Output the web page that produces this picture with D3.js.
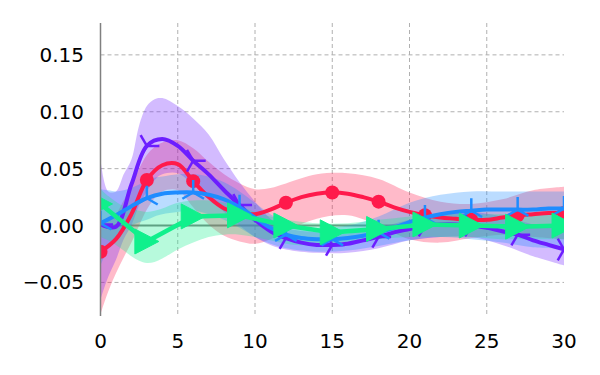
<!DOCTYPE html>
<html>
<head>
<meta charset="utf-8">
<script src="https://cdn.jsdelivr.net/npm/d3@7"></script>
<style>
  body { margin: 0; background: #fff; }
  .graph text { font-family: "DejaVu Sans", sans-serif; font-size: 20px; fill: #000; }
</style>
</head>
<body>
<div class="graph"></div>
<script>
let xs = d3.range(0, 31);
let redLine = [-0.023, -0.012, 0.010, 0.040, 0.053, 0.054, 0.039, 0.025, 0.015, 0.011, 0.010, 0.014, 0.020, 0.025, 0.028, 0.029, 0.028, 0.025, 0.021, 0.016, 0.012, 0.009, 0.007, 0.006, 0.005, 0.005, 0.007, 0.009, 0.010, 0.011, 0.011];
let purpleLine = [0.001, -0.001, 0.036, 0.070, 0.076, 0.070, 0.057, 0.045, 0.031, 0.018, 0.005, -0.005, -0.011, -0.015, -0.017, -0.017, -0.016, -0.013, -0.010, -0.006, -0.003, 0.000, 0.001, 0.001, 0.000, -0.002, -0.005, -0.008, -0.013, -0.017, -0.021];
let blueLine = [0.002, 0.009, 0.017, 0.024, 0.028, 0.029, 0.029, 0.027, 0.023, 0.016, 0.007, -0.002, -0.008, -0.011, -0.012, -0.012, -0.011, -0.009, -0.006, -0.002, 0.003, 0.007, 0.010, 0.012, 0.013, 0.014, 0.014, 0.014, 0.014, 0.015, 0.015];

let greenX = [0, 3, 6, 9, 12, 15, 18, 21, 24, 27, 30];
let greenLine = [0.019, -0.014, 0.008, 0.009, 0.000, -0.006, -0.003, 0.001, 0.000, -0.001, 0.000];

let bandX = [0, 0.5, 1, 1.5, 2, 2.5, 3, 3.5, 4, 5, 6, 7, 8, 9, 10, 11, 12, 14, 16, 18, 20, 22, 24, 26, 28, 30];
let redLow = [-0.078, -0.058, -0.042, -0.028, -0.015, 0.000, 0.014, 0.024, 0.030, 0.031, 0.016, 0.001, -0.009, -0.014, -0.016, -0.012, -0.005, 0.006, 0.009, 0.000, -0.012, -0.015, -0.011, -0.008, -0.010, -0.012];
let redHigh = [0.000, 0.004, 0.010, 0.022, 0.035, 0.050, 0.062, 0.069, 0.073, 0.075, 0.068, 0.056, 0.045, 0.037, 0.032, 0.033, 0.037, 0.045, 0.046, 0.041, 0.029, 0.021, 0.019, 0.023, 0.031, 0.034];
let purpleLow = [-0.065, -0.045, -0.030, -0.012, 0.000, 0.018, 0.030, 0.040, 0.045, 0.046, 0.036, 0.025, 0.012, 0.000, -0.010, -0.017, -0.021, -0.024, -0.024, -0.020, -0.013, -0.010, -0.010, -0.017, -0.027, -0.035];
let purpleHigh = [0.058, 0.030, 0.030, 0.045, 0.058, 0.088, 0.105, 0.111, 0.112, 0.105, 0.094, 0.080, 0.058, 0.038, 0.021, 0.006, -0.002, -0.006, -0.007, -0.002, 0.005, 0.010, 0.012, 0.008, 0.001, -0.004];
let blueLow = [-0.035, -0.020, -0.010, -0.004, 0.000, 0.003, 0.005, 0.008, 0.010, 0.012, 0.013, 0.010, 0.005, -0.002, -0.010, -0.016, -0.020, -0.023, -0.022, -0.018, -0.013, -0.010, -0.012, -0.015, -0.019, -0.020];
let blueHigh = [0.032, 0.031, 0.030, 0.031, 0.033, 0.036, 0.040, 0.042, 0.043, 0.045, 0.045, 0.043, 0.038, 0.030, 0.020, 0.010, 0.003, -0.002, 0.000, 0.008, 0.020, 0.027, 0.030, 0.030, 0.030, 0.030];
let greenLow = [-0.010, -0.013, -0.017, -0.022, -0.027, -0.031, -0.033, -0.032, -0.029, -0.021, -0.015, -0.010, -0.008, -0.008, -0.010, -0.013, -0.016, -0.018, -0.016, -0.012, -0.010, -0.010, -0.010, -0.012, -0.012, -0.012];
let greenHigh = [0.032, 0.026, 0.021, 0.017, 0.015, 0.013, 0.012, 0.013, 0.015, 0.020, 0.022, 0.022, 0.020, 0.017, 0.012, 0.008, 0.005, 0.002, 0.002, 0.005, 0.008, 0.010, 0.010, 0.010, 0.010, 0.010];

let markX = [0, 3, 6, 9, 12, 15, 18, 21, 24, 27, 30];
let xTicks = [0, 5, 10, 15, 20, 25, 30];
let yTicks = [-0.05, 0.00, 0.05, 0.10, 0.15];

let w = 600;
let h = 375;
let pLeft = 100.5, pRight = 564, pTop = 23, pBottom = 316;

let svg = d3.select(".graph").append("svg").attr("width", w).attr("height", h);

let xScale = d3.scaleLinear().domain([0, 30]).range([pLeft, pRight]);
let yScale = d3.scaleLinear().domain([-0.0795, 0.178]).range([pBottom, pTop]);

svg.append("defs").append("clipPath").attr("id", "clip")
  .append("rect").attr("x", pLeft).attr("y", pTop)
  .attr("width", pRight - pLeft).attr("height", pBottom - pTop);

// grid
let grid = svg.append("g");
grid.selectAll(".gx").data(xTicks.filter((d) => d > 0 && d < 30)).enter().append("line")
  .attr("x1", (d) => xScale(d)).attr("x2", (d) => xScale(d))
  .attr("y1", pTop).attr("y2", pBottom)
  .attr("stroke", "#b0b0b0").attr("stroke-width", 1).attr("stroke-dasharray", "4,3");
grid.selectAll(".gy").data(yTicks).enter().append("line")
  .attr("x1", pLeft).attr("x2", pRight)
  .attr("y1", (d) => yScale(d)).attr("y2", (d) => yScale(d))
  .attr("stroke", "#b0b0b0").attr("stroke-width", 1).attr("stroke-dasharray", "4,3");

svg.append("line")
  .attr("x1", pLeft).attr("x2", pRight)
  .attr("y1", yScale(0)).attr("y2", yScale(0))
  .attr("stroke", "#808080").attr("stroke-width", 2);

let series = [
  { color: "#ff1a4b", line: redLine, low: redLow, high: redHigh, marker: "circle" },
  { color: "#6c1eff", line: purpleLine, low: purpleLow, high: purpleHigh, marker: "triRight" },
  { color: "#1e8cff", line: blueLine, low: blueLow, high: blueHigh, marker: "triUp" },
  { color: "#10f08c", line: greenLine, low: greenLow, high: greenHigh, marker: "triangle", xs: greenX }
];

let plot = svg.append("g").attr("clip-path", "url(#clip)");

let area = d3.area()
  .x((d) => xScale(d[0]))
  .y0((d) => yScale(d[1]))
  .y1((d) => yScale(d[2]))
  .curve(d3.curveCatmullRom);

series.forEach(function (s) {
  plot.append("path")
    .datum(bandX.map((x, i) => [x, s.low[i], s.high[i]]))
    .attr("d", area)
    .attr("fill", s.color)
    .attr("fill-opacity", 0.3);
});

function valueAt(s, x) {
  let px = s.xs || xs;
  return s.line[px.indexOf(x)];
}

series.forEach(function (s) {
  let px = s.xs || xs;
  let line = d3.line()
    .x((d) => xScale(d[0]))
    .y((d) => yScale(d[1]))
    .curve(s.xs ? d3.curveLinear : d3.curveCatmullRom);
  plot.append("path")
    .datum(px.map((x, i) => [x, s.line[i]]))
    .attr("d", line)
    .attr("fill", "none")
    .attr("stroke", s.color)
    .attr("stroke-width", s.xs ? 4.5 : 4);

  let marks = plot.selectAll(null).data(markX).enter().append("g")
    .attr("transform", (d) => "translate(" + xScale(d) + "," + yScale(valueAt(s, d)) + ")");
  if (s.marker === "circle") {
    marks.append("circle").attr("r", 7).attr("fill", s.color);
  } else if (s.marker === "triangle") {
    marks.append("path").attr("d", "M12,0L-12,-12.5L-12,12.5Z")
      .attr("fill", s.color).attr("stroke", s.color).attr("stroke-width", 1);
  } else {
    let angles = s.marker === "triRight" ? [0, 120, 240] : [90, 210, 330];
    marks.selectAll("line").data(angles).enter().append("line")
      .attr("x1", 0).attr("y1", 0)
      .attr("x2", (a) => 12.5 * Math.cos(a * Math.PI / 180))
      .attr("y2", (a) => -12.5 * Math.sin(a * Math.PI / 180))
      .attr("stroke", s.color).attr("stroke-width", 2.5);
  }
});

// left spine
svg.append("line")
  .attr("x1", pLeft).attr("x2", pLeft)
  .attr("y1", pTop).attr("y2", pBottom)
  .attr("stroke", "#808080").attr("stroke-width", 1.5);

svg.selectAll(".ytl").data(yTicks).enter().append("text")
  .attr("x", 84).attr("y", (d) => yScale(d))
  .attr("text-anchor", "end").attr("dominant-baseline", "central")
  .text((d) => d3.format(".2f")(d).replace("-", "\u2212"));

svg.selectAll(".xtl").data(xTicks).enter().append("text")
  .attr("x", (d) => xScale(d)).attr("y", 341)
  .attr("text-anchor", "middle").attr("dominant-baseline", "central")
  .text((d) => d);
</script>
</body>
</html>
